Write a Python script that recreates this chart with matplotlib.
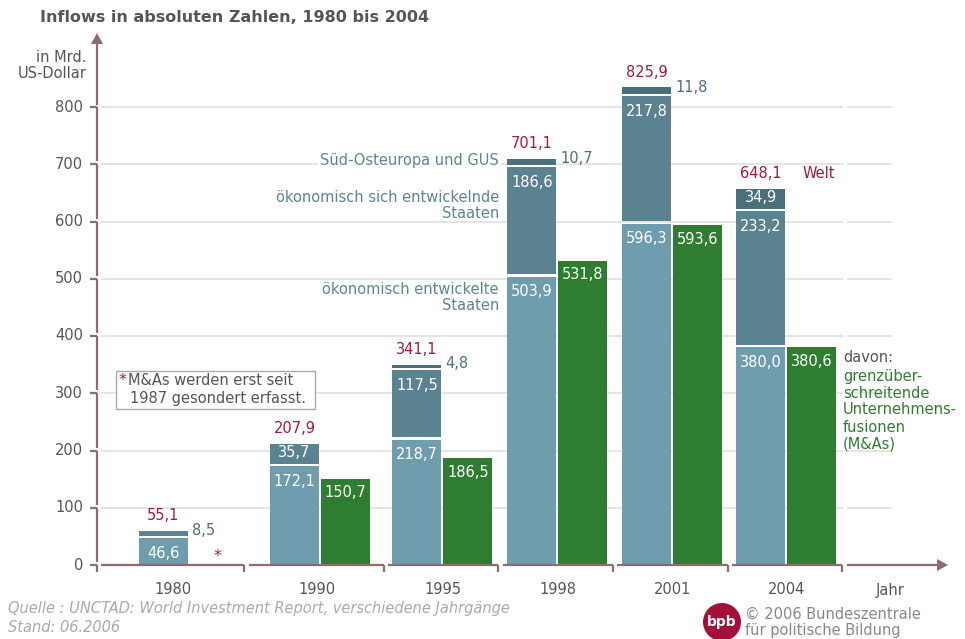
import matplotlib
matplotlib.use('Agg')
import matplotlib.pyplot as plt
from matplotlib import transforms
from matplotlib.patches import Polygon, Rectangle, Circle
from matplotlib.lines import Line2D

# ---------------- data ----------------
years = ['1980', '1990', '1995', '1998', '2001', '2004']
developed = [46.6, 172.1, 218.7, 503.9, 596.3, 380.0]
developing = [8.5, 35.7, 117.5, 186.6, 217.8, 233.2]
see_gus = [0.0, 0.0, 4.8, 10.7, 11.8, 34.9]
world = [55.1, 207.9, 341.1, 701.1, 825.9, 648.1]
mna = [None, 150.7, 186.5, 531.8, 593.6, 380.6]
y_ticks = [0, 100, 200, 300, 400, 500, 600, 700, 800]

# ---------------- layout / style ----------------
W, H = 965, 639
X0, Y0 = 97, 565          # origin in pixels
PPU = 0.5725              # pixels per unit
TOP, RIGHT = 35, 947
centers = [189, 320, 442.5, 557.5, 672, 786.5]
seg_bounds = [(101, 244), (249, 384), (388, 498), (503, 613), (617, 728), (732, 842)]
BW = 49
OFF = 25.5
GAP = 2.5 / PPU           # white gap between stacked segments (in value units)

C_DEV = '#6f9dad'
C_DVG = '#5b8291'
C_SEE = '#4c6f7c'
C_MNA = '#2e7d31'
C_RED = '#a8173f'
C_AX = '#8b6c73'
C_GRID = '#e0e0e0'
C_TXT = '#555555'
C_LBL = '#5e8494'
C_SEETXT = '#4f6f7d'
FS = 10.5
plt.rcParams['font.family'] = ['DejaVu Sans']

fig = plt.figure(figsize=(W / 100, H / 100), dpi=100)
fig.patch.set_facecolor('white')
PX = transforms.Affine2D().scale(1 / W, -1 / H).translate(0, 1) + fig.transFigure

ax = fig.add_axes([X0 / W, (H - Y0) / H, (RIGHT - X0) / W, (Y0 - TOP) / H])
ax.set_xlim(X0, RIGHT)
ax.set_ylim(0, (Y0 - TOP) / PPU)
ax.axis('off')


def fmt(v):
    return f'{v:.1f}'.replace('.', ',')


def pt(px):
    return px * 0.72


# gridlines
for v in y_ticks[1:]:
    ax.plot([101, 843], [v, v], color=C_GRID, lw=1.2, zorder=1, solid_capstyle='butt')
    ax.plot([847, 892], [v, v], color=C_GRID, lw=1.2, zorder=1, solid_capstyle='butt')

# bars
bx = [c - OFF for c in centers]
gx = [c + OFF for c in centers]
dvg_bottom = [d + GAP for d in developed]
see_bottom = [d + GAP + g + GAP for d, g in zip(developed, developing)]
tops = []
ax.bar(bx, developed, width=BW, color=C_DEV, linewidth=0, zorder=3)
ax.bar(bx, developing, width=BW, bottom=dvg_bottom, color=C_DVG, linewidth=0, zorder=3)
for i, s in enumerate(see_gus):
    if s > 0:
        ax.bar(bx[i], s, width=BW, bottom=see_bottom[i], color=C_SEE, linewidth=0, zorder=3)
        tops.append(see_bottom[i] + s)
    else:
        tops.append(dvg_bottom[i] + developing[i])
for i, m in enumerate(mna):
    if m is not None:
        ax.bar(gx[i], m, width=BW, color=C_MNA, linewidth=0, zorder=3)

# value labels
for i in range(len(years)):
    d, g, s = developed[i], developing[i], see_gus[i]
    ax.annotate(fmt(d), (bx[i], d), xytext=(0, -pt(15)), textcoords='offset points',
                ha='center', va='center', color='white', fontsize=FS, zorder=5)
    gh = g * PPU
    gb = dvg_bottom[i]
    if gh < 12:
        ax.annotate(fmt(g), (bx[i] + BW / 2, gb + g / 2), xytext=(pt(4), pt(3)),
                    textcoords='offset points', ha='left', va='center',
                    color=C_SEETXT, fontsize=FS, zorder=5)
    elif gh < 30:
        ax.annotate(fmt(g), (bx[i], gb + g / 2), xytext=(0, pt(1)), textcoords='offset points',
                    ha='center', va='center', color='white', fontsize=FS, zorder=5)
    else:
        ax.annotate(fmt(g), (bx[i], gb + g), xytext=(0, -pt(15)), textcoords='offset points',
                    ha='center', va='center', color='white', fontsize=FS, zorder=5)
    if s > 0:
        sb = see_bottom[i]
        if s * PPU < 12:
            ax.annotate(fmt(s), (bx[i] + BW / 2, sb + s / 2), xytext=(pt(4), pt(3)),
                        textcoords='offset points', ha='left', va='center',
                        color=C_SEETXT, fontsize=FS, zorder=5)
        else:
            ax.annotate(fmt(s), (bx[i], sb + s / 2), xytext=(0, pt(1)), textcoords='offset points',
                        ha='center', va='center', color='white', fontsize=FS, zorder=5)
    ax.annotate(fmt(world[i]), (bx[i], tops[i]), xytext=(0, pt(15)), textcoords='offset points',
                ha='center', va='center', color=C_RED, fontsize=FS, zorder=5)
    if mna[i] is not None:
        ax.annotate(fmt(mna[i]), (gx[i], mna[i]), xytext=(0, -pt(14)), textcoords='offset points',
                    ha='center', va='center', color='white', fontsize=FS, zorder=5)
    else:
        ax.annotate('*', (gx[i], 0), xytext=(pt(3.5), pt(8)), textcoords='offset points',
                    ha='center', va='center', color=C_RED, fontsize=FS + 1, zorder=5)


# ---------------- axes drawn in pixel coordinates ----------------
def line(xs, ys, **kw):
    fig.add_artist(Line2D(xs, ys, transform=PX, color=C_AX, lw=1.6,
                          solid_capstyle='butt', **kw))


def vpx(v):
    return Y0 - v * PPU


def ptext(x, y, s, **kw):
    kw.setdefault('fontsize', FS)
    kw.setdefault('va', 'center')
    return fig.text(x / W, 1 - y / H, s, **kw)


# y axis
line([X0, X0], [vpx(800) - 2, TOP + 8])
for v in y_ticks:
    yy = vpx(v)
    line([90, X0], [yy, yy])
    lower = vpx(v - 100) - 3 if v > 0 else Y0 + 7
    line([X0, X0], [yy, lower])
    ptext(83, yy, str(v), ha='right', color=C_TXT)
fig.add_artist(Polygon([[X0, TOP - 2], [X0 - 6, TOP + 9], [X0 + 6, TOP + 9]], closed=True,
                       transform=PX, color=C_AX, lw=0))

# x axis segments
for (a, b) in seg_bounds:
    line([a, b], [Y0, Y0])
    line([b, b], [Y0, Y0 + 7])
line([847, RIGHT - 8], [Y0, Y0])
fig.add_artist(Polygon([[RIGHT + 1, Y0], [RIGHT - 10, Y0 - 6], [RIGHT - 10, Y0 + 6]], closed=True,
                       transform=PX, color=C_AX, lw=0))

for (a, b), yr in zip(seg_bounds, years):
    ptext((a + b) / 2, 590, yr, ha='center', color=C_TXT)
ptext(890, 590, 'Jahr', ha='center', color=C_TXT)

# title and axis unit
ptext(40, 17, 'Inflows in absoluten Zahlen, 1980 bis 2004', ha='left', color=C_TXT,
      fontsize=11.5, fontweight='bold')
ptext(87, 57, 'in Mrd.', ha='right', color=C_TXT)
ptext(87, 73, 'US-Dollar', ha='right', color=C_TXT)

# series labels
ptext(499, 161, 'Süd-Osteuropa und GUS', ha='right', color=C_LBL,
      bbox=dict(boxstyle='square,pad=0.15', fc='white', ec='none'))
ptext(499, 198, 'ökonomisch sich entwickelnde', ha='right', color=C_LBL)
ptext(499, 214, 'Staaten', ha='right', color=C_LBL)
ptext(499, 289, 'ökonomisch entwickelte', ha='right', color=C_LBL)
ptext(499, 305, 'Staaten', ha='right', color=C_LBL)
ptext(819, 174, 'Welt', ha='center', color=C_RED)

ptext(843, 357, 'davon:', ha='left', color=C_TXT)
for k, s in enumerate(['grenzüber-', 'schreitende', 'Unternehmens-', 'fusionen', '(M&As)']):
    ptext(843, 376 + k * 17, s, ha='left', color=C_MNA)

# footnote box
fig.add_artist(Rectangle((116, 371), 199, 38, transform=PX, fc='white', ec='#aaaaaa', lw=1.0))
ptext(119, 380, '*', ha='left', color=C_RED, fontsize=FS + 1)
ptext(128, 381, 'M&As werden erst seit', ha='left', color=C_TXT)
ptext(130, 398, '1987 gesondert erfasst.', ha='left', color=C_TXT)

# source
ptext(8, 609, 'Quelle : UNCTAD: World Investment Report, verschiedene Jahrgänge', ha='left',
      color='#aaaaaa', style='italic')
ptext(8, 627, 'Stand: 06.2006', ha='left', color='#aaaaaa', style='italic')

# logo
fig.add_artist(Circle((722, 622), 19, transform=PX, fc='#a5103a', ec='none'))
ptext(722, 622, 'bpb', ha='center', color='white', fontsize=10, fontweight='bold')
ptext(745, 614, '© 2006 Bundeszentrale', ha='left', color='#888888')
ptext(745, 631, 'für politische Bildung', ha='left', color='#888888')

fig.savefig('out.png', dpi=100, facecolor='white')
